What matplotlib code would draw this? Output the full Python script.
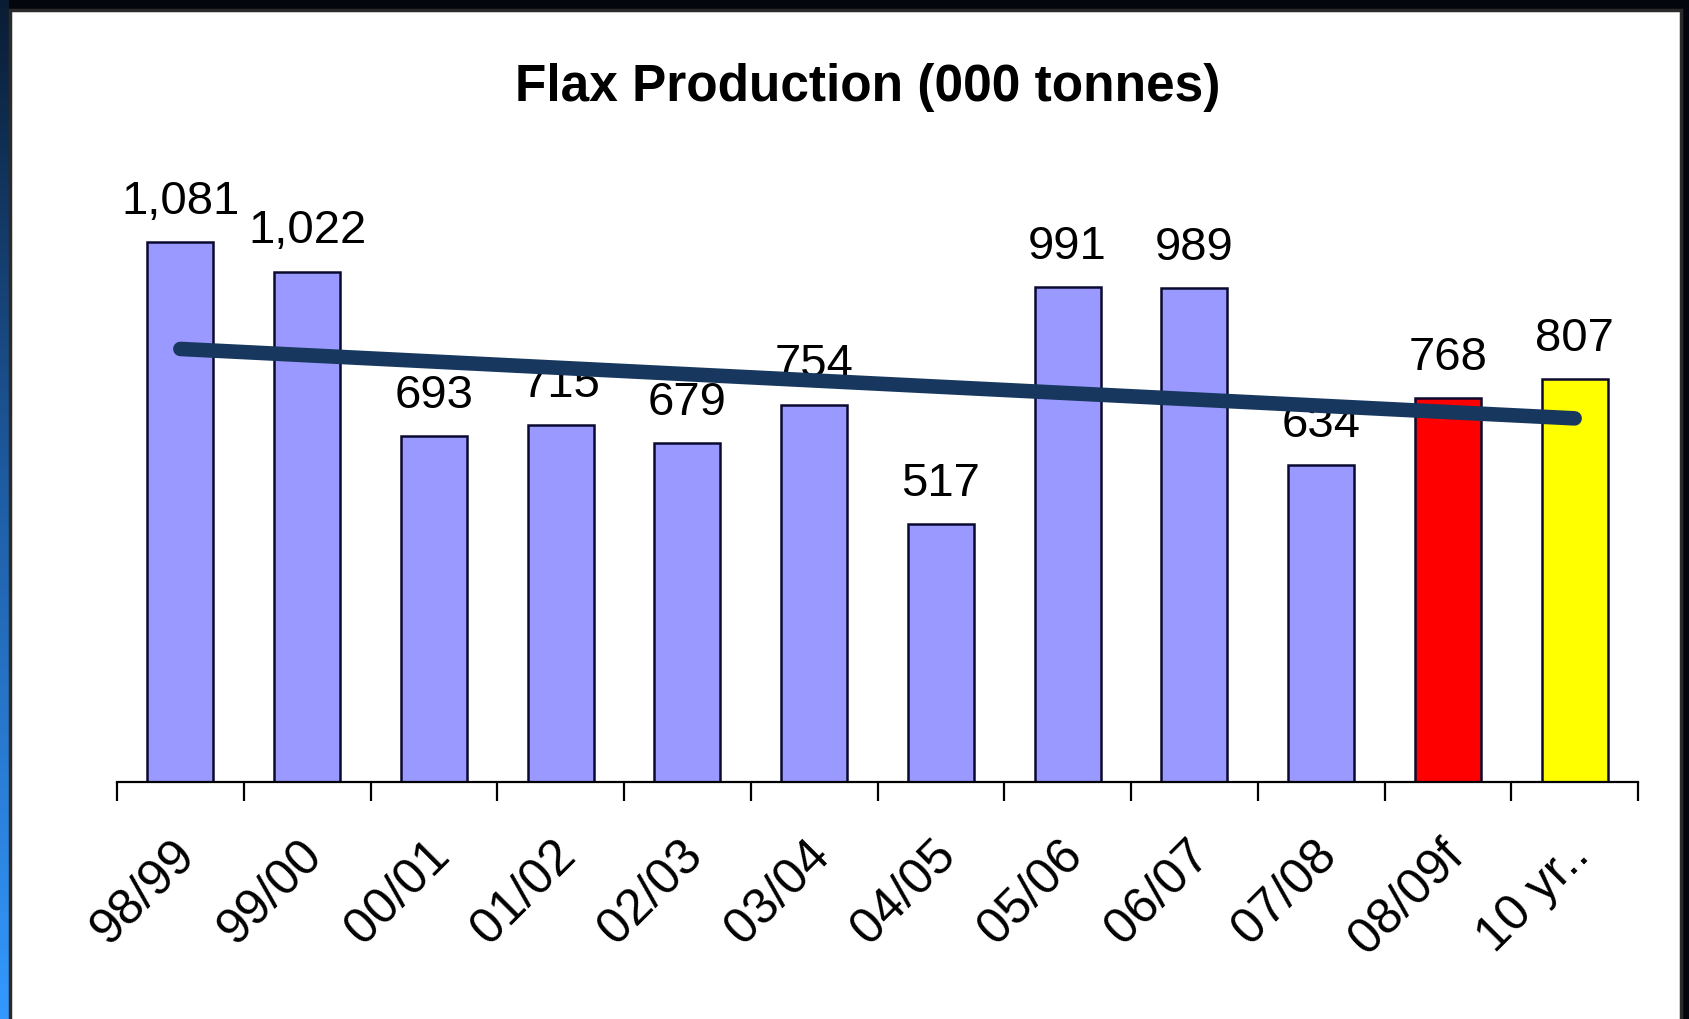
import matplotlib.pyplot as plt
import numpy as np
from matplotlib.patches import Rectangle
from matplotlib.transforms import ScaledTranslation
from matplotlib.colors import LinearSegmentedColormap

plt.rcParams['font.family'] = ['Liberation Sans', 'DejaVu Sans']

categories = ['98/99', '99/00', '00/01', '01/02', '02/03', '03/04',
              '04/05', '05/06', '06/07', '07/08', '08/09f', '10 yr..']
values = [1081, 1022, 693, 715, 679, 754, 517, 991, 989, 634, 768, 807]
bar_colors = ['#9999FF'] * 10 + ['#FF0000', '#FFFF00']
trend_x = [0, 11]
trend_y = [867, 728]

W, H = 1689, 1020
fig = plt.figure(figsize=(W / 100, H / 100), dpi=100, facecolor='#03070d')

# left blue strip of the screenshot frame
strip = fig.add_axes([0, 0, 9 / W, 1], zorder=-5)
grad = np.linspace(0, 1, 256).reshape(-1, 1)
cm = LinearSegmentedColormap.from_list('edge', ['#0a1c33', '#1f5fa8', '#3399ff'])
strip.imshow(grad, aspect='auto', cmap=cm, origin='upper')
strip.axis('off')

# white chart panel
panel = fig.add_axes([0, 0, 1, 1], zorder=-4)
panel.axis('off')
panel.add_patch(Rectangle((10 / W, -0.01), 1671 / W, 1.01 - 11 / H,
                          transform=panel.transAxes, facecolor='white',
                          edgecolor='#2a2a2a', linewidth=2.5))

ax = fig.add_axes([117 / W, 1 - 783 / H, 1521 / W, 599.4 / H])
ax.set_facecolor('none')
x = np.arange(len(values))
ax.bar(x, values, width=0.52, color=bar_colors, edgecolor='#0a0a30',
       linewidth=1.8, zorder=2)

for xi, v in zip(x, values):
    ax.annotate(f'{v:,}', (xi, v), xytext=(0, 21), textcoords='offset points',
                ha='center', va='baseline', fontsize=34, color='black', zorder=3)

ax.plot(trend_x, trend_y, color='#17375E', linewidth=10.5,
        solid_capstyle='round', zorder=4)

ax.set_xlim(-0.5, len(values) - 0.5)
ax.set_ylim(0, 1200)
ax.set_yticks([])
for s in ['left', 'top', 'right']:
    ax.spines[s].set_visible(False)
ax.spines['bottom'].set_linewidth(1.6)
ax.spines['bottom'].set_color('black')

ax.set_xticks(x)
ax.set_xticks(np.arange(len(values) + 1) - 0.5, minor=True)
ax.tick_params(axis='x', which='major', length=0, pad=47)
ax.tick_params(axis='x', which='minor', length=14, width=1.6, color='black',
               direction='out')
ax.set_xticklabels(categories, rotation=45, ha='right', va='center',
                   rotation_mode='anchor', fontsize=36)
off = ScaledTranslation(8 / 100, 0, fig.dpi_scale_trans)
for lab in ax.get_xticklabels():
    lab.set_transform(lab.get_transform() + off)

fig.text(868 / W, 1 - 87 / H, 'Flax Production (000 tonnes)', ha='center',
         va='center', fontsize=37, fontweight='bold', color='black')

fig.savefig('out.png', dpi=100, facecolor=fig.get_facecolor())
